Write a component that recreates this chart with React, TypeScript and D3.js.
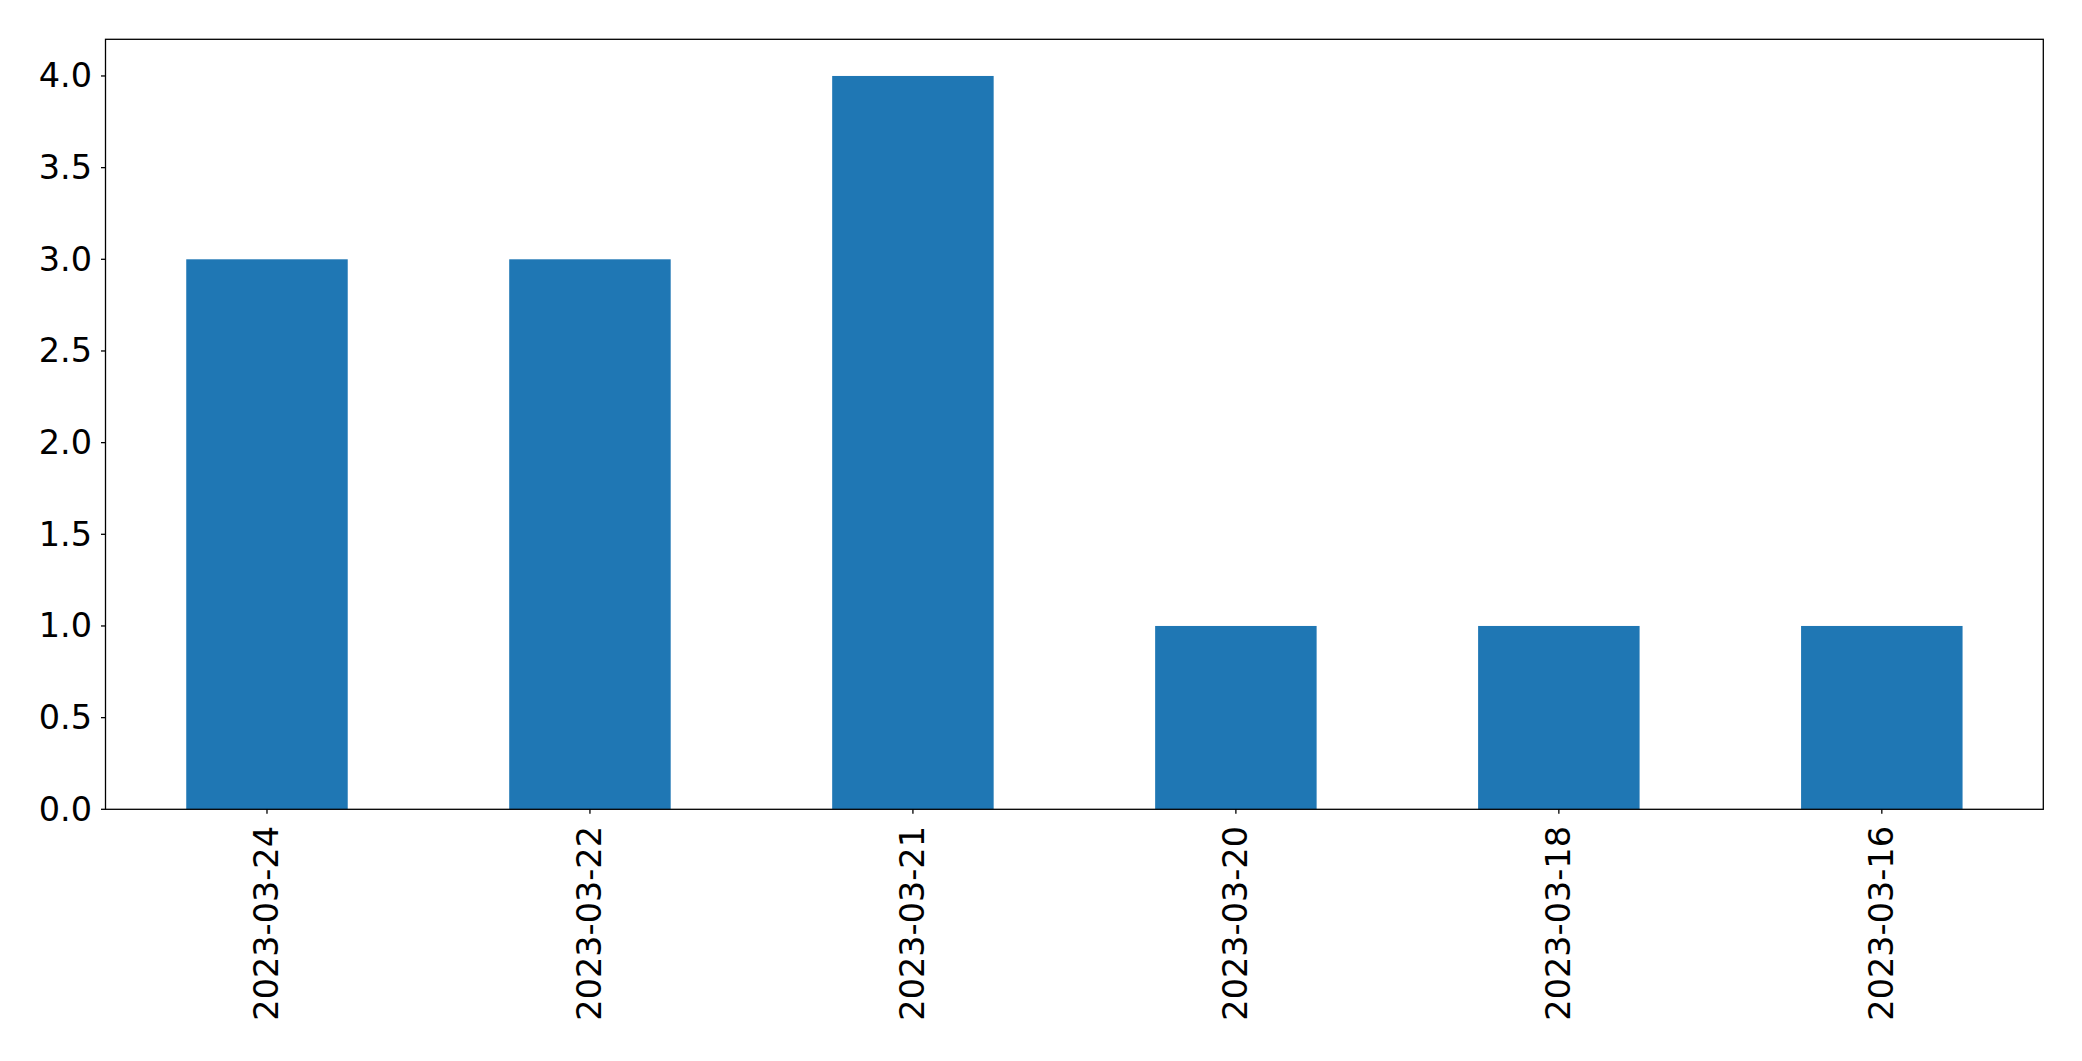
import React from "react";
import * as d3 from "d3";

const categories = ["2023-03-24", "2023-03-22", "2023-03-21", "2023-03-20", "2023-03-18", "2023-03-16"];
const values = [3, 3, 4, 1, 1, 1];
const yTicks = [0, 0.5, 1, 1.5, 2, 2.5, 3, 3.5, 4];

const W = 2082;
const H = 1061;
const left = 105.5;
const right = 2043.3;
const top = 39.3;
const bottom = 809.3;

export default function App() {
  const x = d3.scaleBand<string>().domain(categories).range([left, right]).paddingInner(0.5).paddingOuter(0.25);
  const y = d3.scaleLinear().domain([0, 4.2]).range([bottom, top]);
  const font = "'DejaVu Sans', sans-serif";
  const fs = 33.5;
  return (
    <svg width={W} height={H} style={{ position: "absolute", left: 0, top: 0, background: "#fff" }}>
      <rect x={0} y={0} width={W} height={H} fill="#fff" />
      {categories.map((c, i) => (
        <rect key={c} x={x(c)} y={y(values[i])} width={x.bandwidth()} height={y(0) - y(values[i])} fill="#1f77b4" />
      ))}
      <rect x={left} y={top} width={right - left} height={bottom - top} fill="none" stroke="#000" strokeWidth={1.3} />
      {yTicks.map((t) => (
        <g key={t}>
          <line x1={left - 4.5} x2={left} y1={y(t)} y2={y(t)} stroke="#000" strokeWidth={1.3} />
          <text x={92} y={y(t)} textAnchor="end" dominantBaseline="central" fontFamily={font} fontSize={fs} fill="#000">
            {d3.format(".1f")(t)}
          </text>
        </g>
      ))}
      {categories.map((c) => {
        const cx = (x(c) as number) + x.bandwidth() / 2;
        return (
          <g key={c}>
            <line x1={cx} x2={cx} y1={bottom} y2={bottom + 4.5} stroke="#000" strokeWidth={1.3} />
            <text
              transform={`translate(${cx},${826}) rotate(-90)`}
              textAnchor="end"
              dominantBaseline="central"
              fontFamily={font}
              fontSize={fs}
              fill="#000"
            >
              {c}
            </text>
          </g>
        );
      })}
    </svg>
  );
}
